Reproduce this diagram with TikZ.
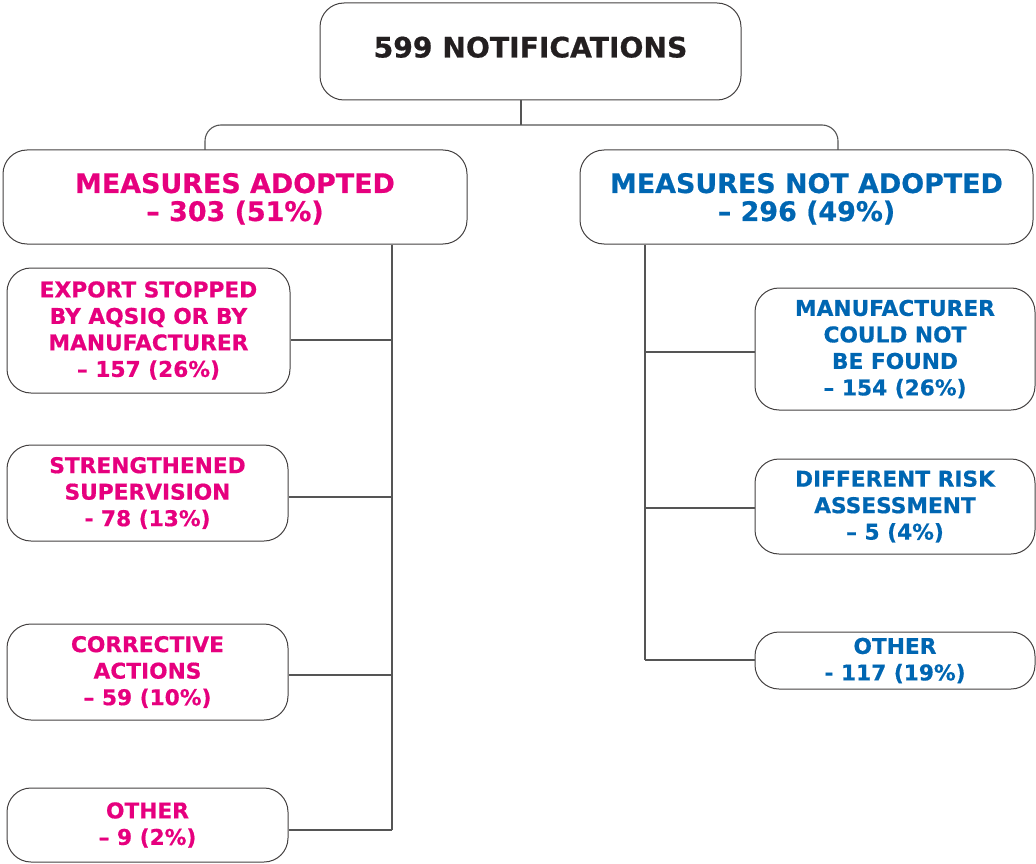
\documentclass[tikz,border=0pt]{standalone}
\usepackage{fontspec}
\setmainfont{DejaVu Sans}
\newfontfamily\heavy{DejaVu Sans}[BoldFeatures={FakeBold=0.6}]
\definecolor{adopt}{HTML}{E6007E}
\definecolor{notadopt}{HTML}{0066B2}
\definecolor{ink}{HTML}{231F20}
\definecolor{wire}{HTML}{555555}
\tikzset{
  box/.style={draw=ink!85, line width=1pt, rounded corners=24pt, inner sep=0pt, align=center},
  head/.style={box, font=\fontsize{26.9}{28}\heavy\bfseries, text depth=0pt},
  item/.style={box, font=\fontsize{21.7}{26.5}\heavy\bfseries},
  wire/.style={draw=wire, line width=1.1pt}
}
\begin{document}
\begin{tikzpicture}[x=1pt, y=-1pt]
      \useasboundingbox (0,0) rectangle (1036,864);
      \node[box, font=\fontsize{28.2}{30}\heavy\bfseries, text=ink,
            minimum width=421pt, minimum height=97pt, text depth=9pt]
        (top) at (530.5,51.5) {599 NOTIFICATIONS};
      \node[head, text=adopt, minimum width=464pt, minimum height=94pt]
        (lmain) at (235,197) {MEASURES ADOPTED\\– 303 (51\%)};
      \node[head, text=notadopt, minimum width=453pt, minimum height=94pt]
        (rmain) at (806.5,197) {MEASURES NOT ADOPTED\\– 296 (49\%)};
      % left branch
      \node[item, text=adopt, minimum width=283pt, minimum height=125pt]
        (lb1) at (148.5,330.5) {EXPORT STOPPED\\BY AQSIQ OR BY\\MANUFACTURER\\– 157 (26\%)};
      \node[item, text=adopt, minimum width=281pt, minimum height=96pt]
        (lb2) at (147.5,493) {STRENGTHENED\\SUPERVISION\\- 78 (13\%)};
      \node[item, text=adopt, minimum width=281pt, minimum height=96pt]
        (lb3) at (147.5,672) {CORRECTIVE\\ACTIONS\\– 59 (10\%)};
      \node[item, text=adopt, minimum width=281pt, minimum height=74pt]
        (lb4) at (147.5,825) {OTHER\\– 9 (2\%)};
      % right branch
      \node[item, text=notadopt, minimum width=280pt, minimum height=122pt]
        (rb1) at (895,349) {MANUFACTURER\\COULD NOT\\BE FOUND\\– 154 (26\%)};
      \node[item, text=notadopt, minimum width=280pt, minimum height=95pt]
        (rb2) at (895,506.5) {DIFFERENT RISK\\ASSESSMENT\\– 5 (4\%)};
      \node[item, text=notadopt, minimum width=280pt, minimum height=57pt]
        (rb3) at (895,660.5) {OTHER\\- 117 (19\%)};
      % junctions
      \coordinate (jn) at (521,125);
      \coordinate (bl) at (205,150);
      \coordinate (br) at (838,150);
      \coordinate (t1) at (392,340);
      \coordinate (t2) at (392,497);
      \coordinate (t3) at (392,675);
      \coordinate (t4) at (392,830);
      \coordinate (s1) at (645,352);
      \coordinate (s2) at (645,508);
      \coordinate (s3) at (645,660);
      \begin{scope}[wire]
        \draw (top.south -| jn) -- (jn);
        \draw[rounded corners=16pt] (bl) |- (jn) -| (br);
        \draw (lmain.south -| t1) -- (t4);
        \draw (t1) -- (lb1.east |- t1);
        \draw (t2) -- (lb2.east |- t2);
        \draw (t3) -- (lb3.east |- t3);
        \draw (t4) -- (lb4.east |- t4);
        \draw (rmain.south -| s1) -- (s3);
        \draw (s1) -- (rb1.west |- s1);
        \draw (s2) -- (rb2.west |- s2);
        \draw (s3) -- (rb3.west |- s3);
      \end{scope}
    \end{tikzpicture}
\end{document}
